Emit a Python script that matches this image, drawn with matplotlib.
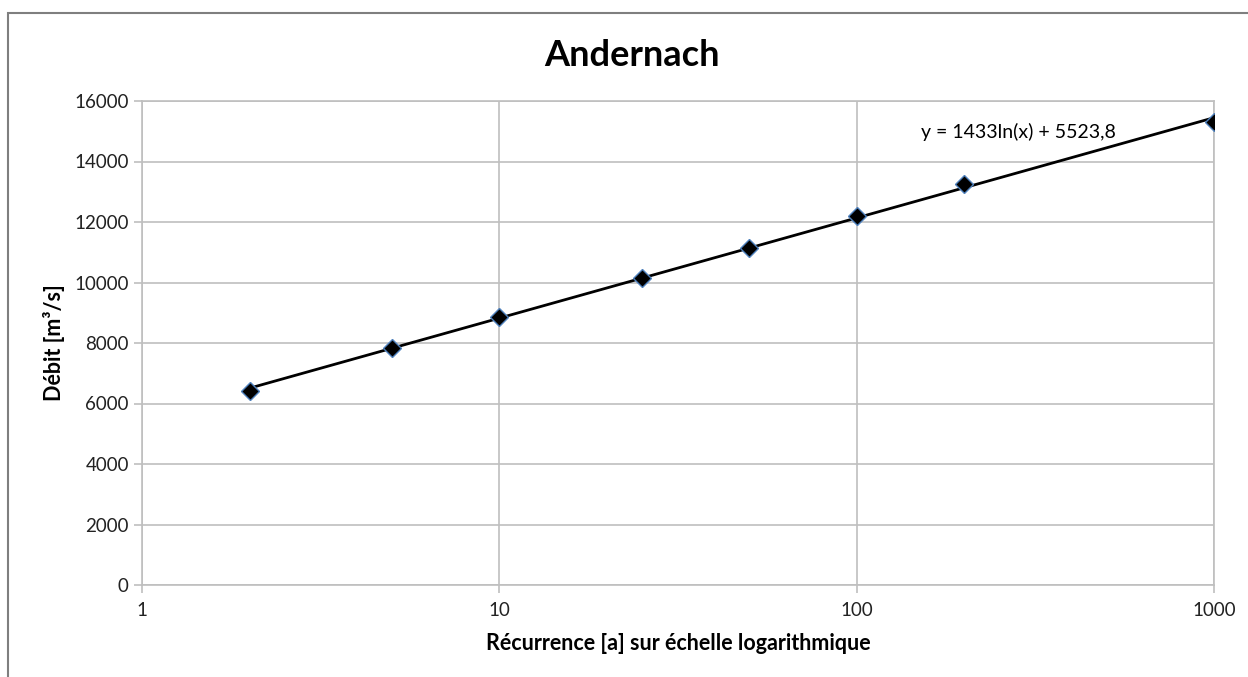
import numpy as np
import matplotlib.pyplot as plt
from matplotlib.patches import Rectangle
from matplotlib.ticker import FixedLocator, NullLocator

# Data
recurrence = [2, 5, 10, 25, 50, 100, 200, 1000]
debit = [6400, 7850, 8850, 10150, 11150, 12200, 13250, 15300]
x_ticks = [1, 10, 100, 1000]
y_ticks = [0, 2000, 4000, 6000, 8000, 10000, 12000, 14000, 16000]
title = 'Andernach'
equation = 'y = 1433ln(x) + 5523,8'

plt.rcParams['font.family'] = ['Lato', 'DejaVu Sans']
grid_col = '#BFBFBF'

fig = plt.figure(figsize=(12.48, 6.77), dpi=100)
ax = fig.add_axes([142 / 1248, 92 / 677, 1072 / 1248, 484 / 677])

# chart frame (cropped on right and bottom)
fig.patches.append(Rectangle((8 / 1248, -0.05), 1.2, (677 - 13) / 677 + 0.05,
                             transform=fig.transFigure, fill=False,
                             edgecolor='#7F7F7F', linewidth=1.5))

# logarithmic trend line fitted on the data
slope, intercept = np.polyfit(np.log(recurrence), debit, 1)
xs = np.linspace(min(recurrence), max(recurrence), 400)
ax.plot(xs, slope * np.log(xs) + intercept, color='black', linewidth=2, zorder=3)

ax.plot(recurrence, debit, linestyle='none', marker='D', markersize=9.5,
        markerfacecolor='black', markeredgecolor='#4F81BD', markeredgewidth=1,
        zorder=4)

ax.set_xscale('log')
ax.set_xlim(1, 1000)
ax.set_ylim(0, 16000)
ax.xaxis.set_major_locator(FixedLocator(x_ticks))
ax.xaxis.set_minor_locator(NullLocator())
ax.set_xticklabels([str(v) for v in x_ticks])
ax.set_yticks(y_ticks)
ax.set_yticklabels([str(v) for v in y_ticks])
ax.grid(True, color=grid_col, linewidth=1.2)
ax.set_axisbelow(True)
for s in ax.spines.values():
    s.set_color(grid_col)
    s.set_linewidth(1.2)
ax.tick_params(axis='both', colors=grid_col, labelcolor='#222222',
               labelsize=13.5, length=6, width=1.2)
ax.tick_params(axis='x', pad=6)

ax.set_xlabel('Récurrence [a] sur échelle logarithmique', fontsize=15.5,
              fontweight='bold', labelpad=10)
ax.set_ylabel('Débit [m³/s]', fontsize=15.5, fontweight='bold', labelpad=7)
fig.text(632 / 1248, 1 - 55 / 677, title, fontsize=26, fontweight='bold',
         ha='center', va='center')
ax.text(0.727, 0.937, equation, transform=ax.transAxes, fontsize=14,
        ha='left', va='center')

fig.savefig('out.png', dpi=100)
